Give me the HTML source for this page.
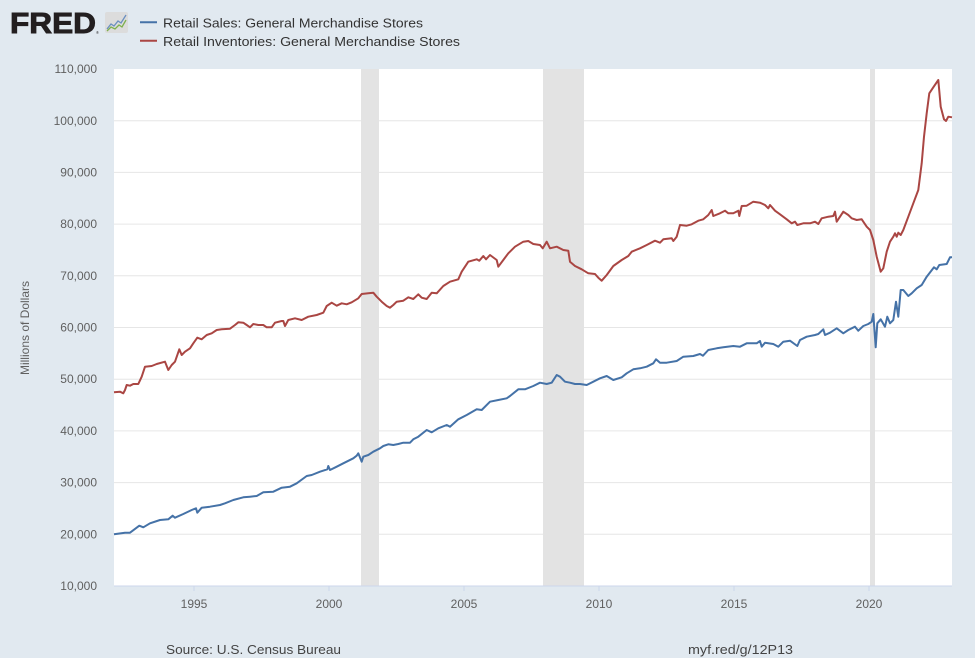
<!DOCTYPE html>
<html><head><meta charset="utf-8"><style>
html,body{margin:0;padding:0;background:#e1e9f0;}
svg{display:block;}
text{font-family:"Liberation Sans",sans-serif;}
</style></head><body>
<svg width="975" height="658" viewBox="0 0 975 658" xmlns="http://www.w3.org/2000/svg">
<rect x="0" y="0" width="975" height="658" fill="#e1e9f0"/>
<!-- logo -->
<text x="10" y="33" font-size="29" font-weight="bold" fill="#231f20" stroke="#231f20" stroke-width="0.9" textLength="86" lengthAdjust="spacingAndGlyphs">FRED</text>
<text x="96" y="34" font-size="4" fill="#231f20">®</text>
<rect x="105" y="12" width="23" height="21" rx="2" fill="#dcdcdc"/>
<polyline points="107,29 111,24 114,26 118,21 121,23 126,15" fill="none" stroke="#6a8fc0" stroke-width="1.3"/>
<polyline points="107,31 111,27 115,29 119,25 122,27 126,20" fill="none" stroke="#7db04d" stroke-width="1.3"/>
<!-- legend -->
<line x1="140" y1="22.3" x2="157" y2="22.3" stroke="#4572a7" stroke-width="2"/>
<line x1="140" y1="40.7" x2="157" y2="40.7" stroke="#aa4643" stroke-width="2"/>
<text x="163" y="27.5" font-size="13" fill="#333" textLength="260" lengthAdjust="spacingAndGlyphs">Retail Sales: General Merchandise Stores</text>
<text x="163" y="46" font-size="13" fill="#333" textLength="297" lengthAdjust="spacingAndGlyphs">Retail Inventories: General Merchandise Stores</text>
<!-- plot area -->
<rect x="114" y="69" width="838" height="517" fill="#ffffff"/>
<g stroke="#e6e6e6" stroke-width="1">
<line x1="114" x2="952" y1="534.3" y2="534.3"/>
<line x1="114" x2="952" y1="482.6" y2="482.6"/>
<line x1="114" x2="952" y1="430.9" y2="430.9"/>
<line x1="114" x2="952" y1="379.2" y2="379.2"/>
<line x1="114" x2="952" y1="327.5" y2="327.5"/>
<line x1="114" x2="952" y1="275.8" y2="275.8"/>
<line x1="114" x2="952" y1="224.1" y2="224.1"/>
<line x1="114" x2="952" y1="172.4" y2="172.4"/>
<line x1="114" x2="952" y1="120.7" y2="120.7"/>
</g>
<g fill="#e3e3e3">
<rect x="361" y="69" width="18" height="517"/>
<rect x="543" y="69" width="41" height="517"/>
<rect x="870" y="69" width="5" height="517"/>
</g>
<line x1="114" x2="952" y1="586" y2="586" stroke="#ccd6eb" stroke-width="1"/>
<g stroke="#ccd6eb" stroke-width="1">
<line x1="194" x2="194" y1="586" y2="591"/>
<line x1="329" x2="329" y1="586" y2="591"/>
<line x1="464" x2="464" y1="586" y2="591"/>
<line x1="599" x2="599" y1="586" y2="591"/>
<line x1="734" x2="734" y1="586" y2="591"/>
<line x1="869" x2="869" y1="586" y2="591"/>
</g>
<!-- y labels -->
<g font-size="12" fill="#606060" text-anchor="end">
<text x="97" y="73">110,000</text>
<text x="97" y="125">100,000</text>
<text x="97" y="176.5">90,000</text>
<text x="97" y="228">80,000</text>
<text x="97" y="280">70,000</text>
<text x="97" y="331.5">60,000</text>
<text x="97" y="383">50,000</text>
<text x="97" y="435">40,000</text>
<text x="97" y="486.5">30,000</text>
<text x="97" y="538.5">20,000</text>
<text x="97" y="590">10,000</text>
</g>
<text transform="translate(29,328) rotate(-90)" font-size="12" fill="#606060" text-anchor="middle">Millions of Dollars</text>
<!-- x labels -->
<g font-size="12" fill="#606060" text-anchor="middle">
<text x="194" y="608">1995</text>
<text x="329" y="608">2000</text>
<text x="464" y="608">2005</text>
<text x="599" y="608">2010</text>
<text x="734" y="608">2015</text>
<text x="869" y="608">2020</text>
</g>
<!-- series -->
<polyline fill="none" stroke="#4572a7" stroke-width="2" stroke-linejoin="round" points="114,534.3 125,532.7 130,532.7 139.3,525.7 143.3,527.3 150,523.3 160,520 168.3,519.3 172.7,515.7 175,517.7 183.3,514 191.7,510 196,508.3 197.3,512.7 201.7,507.7 210,506.7 220,505 225,503.3 233.3,500 243.3,497.3 250,496.7 256.7,496 263.3,492.3 273.3,491.7 281.7,487.7 290,486.7 296.7,483.3 306.7,476 311.7,475 320,471.7 327.3,469.3 328.3,466 330,470 336.7,466.7 343.3,463.3 353.3,458.3 356.7,455.7 358.3,453.3 361.7,461.7 363.3,456.7 368.3,455 373.3,451.7 380,448.3 383.3,446 388.3,444.3 393.3,445 398.3,444 403.3,442.7 410,442.7 413.3,439.3 418.3,436.7 426.7,430 431.7,432.3 438.3,428.3 446.7,425 450,426.7 458.3,419.3 466.7,415 476.7,409.3 481.7,410 490,401.7 498.3,400 506.7,398.3 510,396 518.3,389.3 525,389.3 533.3,386 540,382.7 546.7,384 551.7,382.7 556.7,375 560,376.7 565,381.7 570,382.7 575,384 580,384 586.7,385 593.3,381.7 600,378.3 606.7,376 613.3,380 621.7,377.3 626.7,373.3 633.3,369.3 640,368.3 646.7,366.7 653.3,363.3 656,359.3 660,362.7 666.7,362.7 676.7,361 683.3,356.7 693.3,356 700,354 703,355.7 708.3,350 716.7,348.3 723.3,347.3 733.3,346 740,346.7 746.7,343.3 756.7,343.3 760,341 761.7,346.7 765,342.7 773.3,344 778.3,346.7 783.3,341.7 790,340.7 797.3,346 800,340 806.7,336.7 815,335 818.3,334 823.3,329.3 825,335 830,332.7 836.7,328.3 843.3,333.3 848.3,330 855,326.7 858.3,330.7 863.3,326 868.3,324 871.7,321.7 873.3,314 875.7,347.3 877.3,323.3 880.7,319.3 885,326.7 887.3,316.7 890,323.3 893.3,320 896,301.7 898.3,316.7 900.7,290 903.3,290 908.3,296 911.7,293.3 916.7,288.3 921.7,285 926.7,276.7 934,267.3 936.7,269.3 939.3,265 946.7,264 950,257.3 952,257.3"/>
<polyline fill="none" stroke="#aa4643" stroke-width="2" stroke-linejoin="round" points="114,392.3 120,391.7 123.3,393.3 125,390 126.7,385 130,385.7 133.3,384 138.3,384 141.7,376.7 145,366.7 151.7,366 156.7,364 165,361.7 168.3,370 171.7,365 175,361.7 179.3,349.3 181.7,355 185,351.7 190,348.3 193.3,343.3 197.3,337.7 201.7,339.3 206.7,335 211.7,333.3 216.7,330 221.7,329.3 230,328.7 235,325 238.3,322.3 243.3,322.7 246.7,325 250,327.3 253.3,324 258.3,325 263.3,325 266.7,327.3 271.7,327.3 275,322.7 281.7,321 283.3,321 285,326 288.3,320 295,318.3 301.7,320 308.3,316.7 316.7,315 323.3,312.7 326.7,306 331.7,302.7 336.7,305.7 341.7,303.3 346.7,304.3 351.7,302.3 358.3,298.3 361.7,294 368.3,293.3 373.3,292.7 376.7,296.7 381.7,301.7 386.7,306 390,307.7 393.3,305 396.7,301.7 403.3,300.7 408.3,297.3 413.3,299 418.3,294.3 421.7,297.7 426.7,299 431.7,292.7 436.7,293.3 443.3,286 450,281.7 458.3,279.3 461.7,271.7 468.3,261.7 476.7,259.3 479.3,260.7 483.3,256 486,259.3 490,255 496.7,260 498.3,266.7 503.3,260 508.3,253.3 515,246.7 523.3,241.7 528.3,241 533.3,244 540,245 542.7,248.3 546.7,241.7 550,248.3 556.7,246.7 563.3,250 568.3,250.7 570,261.7 575,266 581.7,269.3 588.3,273.3 595,274 598.3,277.7 601.7,280.7 606.7,275 613.3,266 621.7,260 628.3,256 631.7,251.7 640,248.3 646.7,245 655,240.7 660,242.7 663.3,239.3 671.7,238.3 673.3,241 676.7,236.7 680,225 686.7,225.7 691.7,224.3 698.3,220.7 703.3,219.3 708.3,215 711.7,210 713.3,216 720,213.3 725,210.7 728.3,213.3 733.3,213.3 738.3,210.7 739.3,216 741.7,206 746.7,205.7 753.3,201.7 760,202.7 765,205 768.3,208.3 770,205 775,210.7 780,214.3 786.7,219.3 791.7,223.3 795,221.7 797.3,225 803.3,223.3 810,223.3 815,221.7 818.3,224 821.7,218.3 828.3,216.7 833.3,216 835,211.7 836.7,221.7 843.3,211.7 848.3,215 851.7,218.3 856.7,220 861.7,219.3 866.7,226.7 870,230 873.3,240 876.7,256.7 880.7,271.7 883.3,268.3 886.7,251.7 890,241.7 893.3,236.7 895,233.3 896.7,236.7 898.3,232.7 900.7,235 903.3,230 908.3,216.7 913.3,203.3 918.3,190 921.7,163.3 924,136.7 926.7,113.3 929.3,93.3 933.3,87.3 938.3,80 940.7,106.7 944,119.3 946,121 948.3,116.7 952,117.3"/>
<!-- footer -->
<text x="166" y="654" font-size="13" fill="#444" textLength="175" lengthAdjust="spacingAndGlyphs">Source: U.S. Census Bureau</text>
<text x="688" y="654" font-size="13" fill="#444" textLength="105" lengthAdjust="spacingAndGlyphs">myf.red/g/12P13</text>
</svg>
</body></html>
